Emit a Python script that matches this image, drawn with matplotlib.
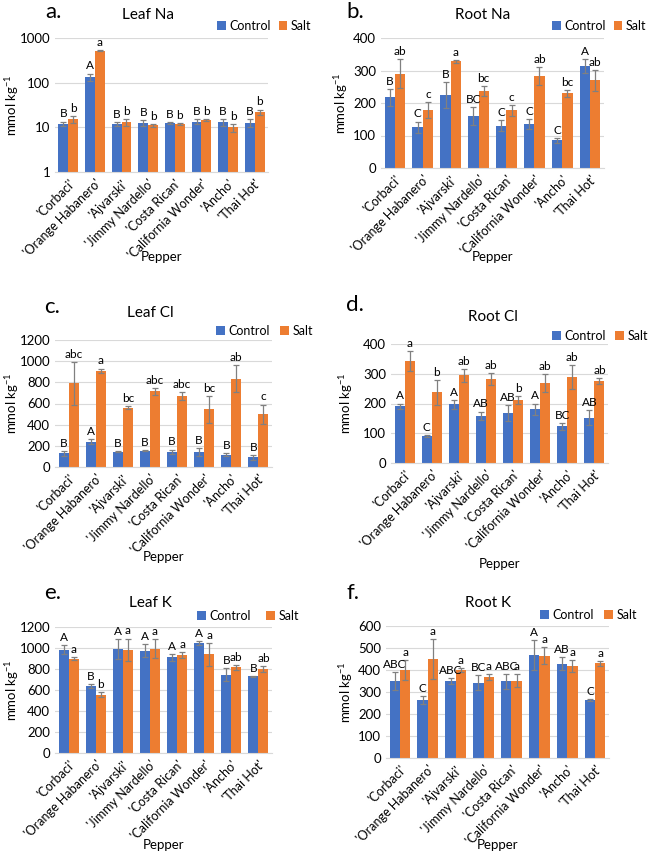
import numpy as np
import matplotlib
matplotlib.use('Agg')
import matplotlib.pyplot as plt
from matplotlib.ticker import FixedLocator, FixedFormatter, NullLocator

plt.rcParams['font.family'] = ['Lato', 'DejaVu Sans']
plt.rcParams['mathtext.fontset'] = 'custom'
plt.rcParams['mathtext.rm'] = 'Lato'
plt.rcParams['mathtext.it'] = 'Lato'

#------------------------------------DATA----------------------------------------#
peppers = ["'Corbaci'", "'Orange Habanero'", "'Ajvarski'", "'Jimmy Nardello'",
           "'Costa Rican'", "'California Wonder'", "'Ancho'", "'Thai Hot'"]

# a. Leaf Na
leafna_ctrl = [12, 135, 12, 12.5, 12.5, 13.5, 13, 12.5]
leafna_ctrl_err = [1.5, 25, 1.2, 2, 0.5, 1.5, 2.5, 2.5]
leafna_salt = [15, 520, 13, 11, 12, 14.5, 10, 22]
leafna_salt_err = [2.5, 10, 2.5, 1, 0.7, 0.7, 2, 3]
leafna_ctrl_let = ['B', 'A', 'B', 'B', 'B', 'B', 'B', 'B']
leafna_salt_let = ['b', 'a', 'b', 'b', 'b', 'b', 'b', 'b']

# b. Root Na
rootna_ctrl = [217, 125, 225, 160, 130, 135, 85, 313]
rootna_ctrl_err = [25, 18, 40, 28, 17, 15, 8, 22]
rootna_salt = [290, 178, 328, 238, 177, 282, 230, 270]
rootna_salt_err = [45, 25, 5, 15, 18, 28, 10, 32]
rootna_ctrl_let = ['B', 'C', 'B', 'BC', 'C', 'C', 'C', 'A']
rootna_salt_let = ['ab', 'c', 'a', 'bc', 'c', 'ab', 'bc', 'ab']

# c. Leaf Cl
leafcl_ctrl = [130, 240, 145, 155, 145, 140, 115, 90]
leafcl_ctrl_err = [25, 25, 5, 5, 20, 40, 15, 20]
leafcl_salt = [790, 910, 560, 715, 670, 545, 835, 500]
leafcl_salt_err = [205, 20, 15, 30, 40, 125, 125, 90]
leafcl_ctrl_let = ['B', 'A', 'B', 'B', 'B', 'B', 'B', 'B']
leafcl_salt_let = ['abc', 'a', 'bc', 'abc', 'abc', 'bc', 'ab', 'c']

# d. Root Cl
rootcl_ctrl = [190, 90, 197, 158, 168, 180, 123, 152]
rootcl_ctrl_err = [10, 3, 15, 15, 28, 20, 12, 25]
rootcl_salt = [343, 237, 295, 283, 212, 270, 290, 275]
rootcl_salt_err = [33, 43, 22, 20, 13, 30, 40, 10]
rootcl_ctrl_let = ['A', 'C', 'A', 'AB', 'AB', 'A', 'BC', 'AB']
rootcl_salt_let = ['a', 'b', 'ab', 'ab', 'b', 'ab', 'ab', 'ab']

# e. Leaf K
leafk_ctrl = [985, 635, 990, 975, 910, 1050, 745, 730]
leafk_ctrl_err = [45, 20, 95, 65, 30, 20, 60, 5]
leafk_salt = [900, 555, 985, 995, 935, 940, 815, 800]
leafk_salt_err = [10, 25, 105, 90, 30, 110, 25, 30]
leafk_ctrl_let = ['A', 'B', 'A', 'A', 'A', 'A', 'B', 'B']
leafk_salt_let = ['a', 'b', 'a', 'a', 'a', 'a', 'ab', 'ab']

# f. Root K
rootk_ctrl = [350, 262, 350, 343, 348, 468, 428, 265]
rootk_ctrl_err = [40, 18, 12, 35, 35, 70, 30, 5]
rootk_salt = [400, 450, 400, 368, 352, 465, 418, 430]
rootk_salt_err = [45, 90, 10, 15, 28, 38, 28, 10]
rootk_ctrl_let = ['ABC', 'C', 'ABC', 'BC', 'ABC', 'A', 'AB', 'C']
rootk_salt_let = ['a', 'a', 'a', 'a', 'a', 'a', 'a', 'a']

#------------------------------------PLOTTING----------------------------------------#
W, H = 652, 852
BLUE = '#4472C4'
ORANGE = '#ED7D31'
GRID = '#D9D9D9'
ERR = '#808080'

fig = plt.figure(figsize=(W / 100, H / 100), dpi=100)


def px_axes(left, right, top, bottom):
    return fig.add_axes([left / W, 1 - bottom / H, (right - left) / W, (bottom - top) / H])


def panel(box, letter, letter_xy, title, title_xy, leg_xy, ylab_x, pepper_y,
          ctrl, ctrl_err, salt, salt_err, ctrl_let, salt_let, yticks, log=False, colsp=0.6):
    ax = px_axes(*box)
    x = np.arange(len(peppers))
    w = 0.37
    ekw = dict(ecolor=ERR, elinewidth=0.9, capsize=2, capthick=0.9)
    b1 = ax.bar(x - w / 2, ctrl, w, color=BLUE, yerr=ctrl_err, error_kw=ekw, label='Control', zorder=2)
    b2 = ax.bar(x + w / 2, salt, w, color=ORANGE, yerr=salt_err, error_kw=ekw, label='Salt', zorder=2)
    # significance letters above error bars
    for xi, v, e, t in zip(x - w / 2, ctrl, ctrl_err, ctrl_let):
        ax.annotate(t, (xi, v + e), xytext=(0, 1.5), textcoords='offset points',
                    ha='center', va='bottom', fontsize=8.5)
    for xi, v, e, t in zip(x + w / 2, salt, salt_err, salt_let):
        ax.annotate(t, (xi, v + e), xytext=(0, 1.5), textcoords='offset points',
                    ha='center', va='bottom', fontsize=8.5)
    if log:
        ax.set_yscale('log')
    ax.set_ylim(yticks[0], yticks[-1])
    ax.yaxis.set_major_locator(FixedLocator(yticks))
    ax.yaxis.set_major_formatter(FixedFormatter([str(t) for t in yticks]))
    ax.yaxis.set_minor_locator(NullLocator())
    ax.set_xlim(-0.5, len(peppers) - 0.5)
    ax.set_xticks(x)
    ax.set_xticklabels(peppers, rotation=45, ha='right', rotation_mode='anchor', fontsize=9)
    ax.tick_params(axis='both', length=0, labelsize=9.5)
    ax.tick_params(axis='x', pad=4, labelsize=9)
    ax.grid(axis='y', color=GRID, lw=0.8, zorder=0)
    ax.set_axisbelow(True)
    for s in ['top', 'right', 'left']:
        ax.spines[s].set_visible(False)
    ax.spines['bottom'].set_color(GRID)
    ax.spines['bottom'].set_zorder(3)
    # texts
    fig.text(letter_xy[0] / W, 1 - letter_xy[1] / H, letter, fontsize=16, ha='left', va='center')
    fig.text(title_xy[0] / W, 1 - title_xy[1] / H, title, fontsize=11, ha='center', va='center')
    fig.text(ylab_x / W, 1 - (box[2] + box[3]) / 2 / H, 'mmol kg$^{-1}$', rotation=90,
             fontsize=9.5, ha='center', va='center')
    fig.text((box[0] + box[1]) / 2 / W, 1 - pepper_y / H, 'Pepper', fontsize=9.5,
             ha='center', va='center')
    ax.legend(handles=[b1, b2], loc='center left', bbox_to_anchor=(leg_xy[0] / W, 1 - leg_xy[1] / H),
              bbox_transform=fig.transFigure, ncol=2, frameon=False, fontsize=9,
              handlelength=0.7, handleheight=0.7, handletextpad=0.3, columnspacing=colsp,
              borderpad=0, borderaxespad=0)
    return ax


panel((55, 268, 38, 172), 'a.', (45, 12), 'Leaf Na', (148, 15), (217, 26), 12, 257,
      leafna_ctrl, leafna_ctrl_err, leafna_salt, leafna_salt_err,
      leafna_ctrl_let, leafna_salt_let, [1, 10, 100, 1000], log=True)
panel((381, 604, 38, 168), 'b.', (346, 12), 'Root Na', (483, 15), (552, 26), 341, 257,
      rootna_ctrl, rootna_ctrl_err, rootna_salt, rootna_salt_err,
      rootna_ctrl_let, rootna_salt_let, [0, 100, 200, 300, 400])
panel((55, 272, 340, 467), 'c.', (44, 307), 'Leaf Cl', (150, 313), (216, 331), 12, 557,
      leafcl_ctrl, leafcl_ctrl_err, leafcl_salt, leafcl_salt_err,
      leafcl_ctrl_let, leafcl_salt_let, [0, 200, 400, 600, 800, 1000, 1200], colsp=0.8)
panel((391, 608, 344, 463), 'd.', (346, 305), 'Root Cl', (493, 317), (552, 336), 346, 564,
      rootcl_ctrl, rootcl_ctrl_err, rootcl_salt, rootcl_salt_err,
      rootcl_ctrl_let, rootcl_salt_let, [0, 100, 200, 300, 400], colsp=0.7)
panel((55, 272, 627, 753), 'e.', (44, 593), 'Leaf K', (150, 603), (197, 616), 12, 845,
      leafk_ctrl, leafk_ctrl_err, leafk_salt, leafk_salt_err,
      leafk_ctrl_let, leafk_salt_let, [0, 200, 400, 600, 800, 1000, 1200], colsp=1.2)
panel((386, 609, 626, 758), 'f.', (346, 593), 'Root K', (488, 603), (540, 615), 346, 845,
      rootk_ctrl, rootk_ctrl_err, rootk_salt, rootk_salt_err,
      rootk_ctrl_let, rootk_salt_let, [0, 100, 200, 300, 400, 500, 600], colsp=0.8)

fig.savefig('out.png', dpi=100, facecolor='white')
